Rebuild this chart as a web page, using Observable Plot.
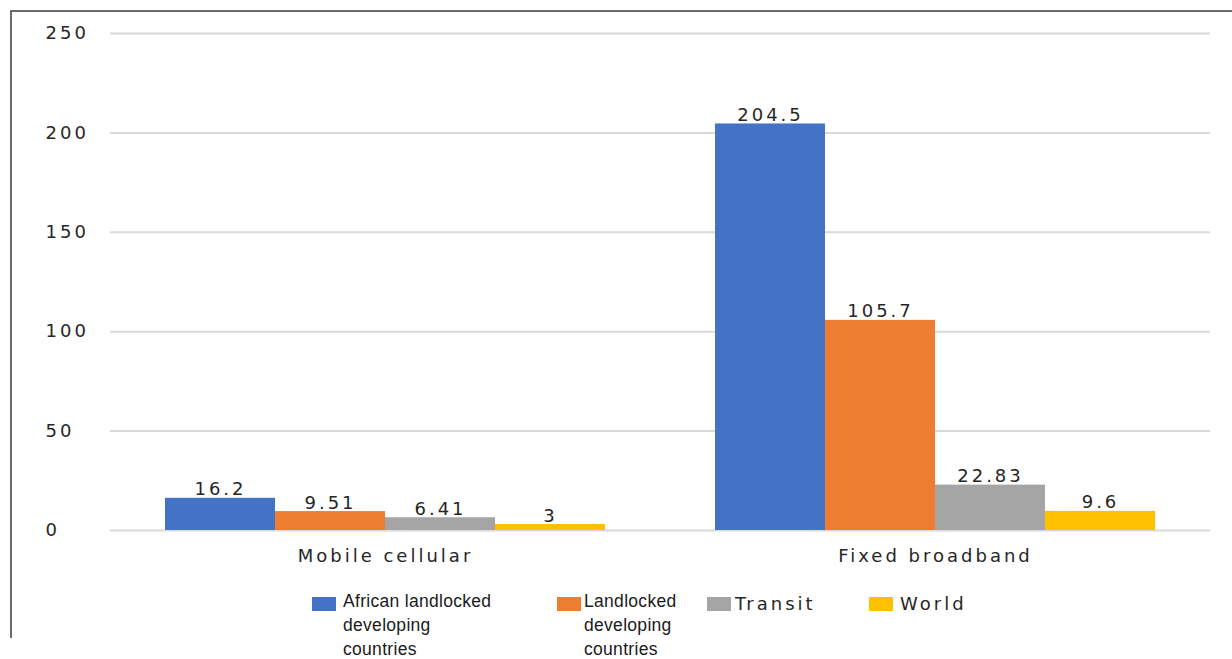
<!DOCTYPE html>
<html>
<head>
<meta charset="utf-8">
<script src="https://cdn.jsdelivr.net/npm/d3@7"></script>
<script src="https://cdn.jsdelivr.net/npm/@observablehq/plot@0.6"></script>
<style>
  html, body { margin: 0; padding: 0; background: #fff; }
  #frame { position: absolute; left: 10px; top: 10px; width: 1222px; height: 628px;
           border-left: 2px solid #6b6b6b; border-top: 2px solid #6b6b6b; box-sizing: border-box; }
  #chart { position: absolute; left: 0; top: 0; }
  #chart svg, #chart svg text { font-family: "DejaVu Sans", sans-serif !important; letter-spacing: 3px; }
  .sw { position: absolute; width: 24px; height: 14px; }
  .lt { position: absolute; font-size: 17.5px; line-height: 24px; color: #1a1a1a; }
  .calibri { font-family: "Liberation Sans", sans-serif; letter-spacing: 0.3px; }
  .dejavu { font-family: "DejaVu Sans", sans-serif; letter-spacing: 3px; font-size: 18px; color: #262626; }
</style>
</head>
<body>
<div id="frame">
  <div id="chart"></div>
  <div id="legend"></div>
</div>
<script>
const categories = ["Mobile cellular", "Fixed broadband"];
const series = ["African landlocked developing countries", "Landlocked developing countries", "Transit", "World"];
const mobileValues = [16.2, 9.51, 6.41, 3];
const fixedValues = [204.5, 105.7, 22.83, 9.6];
const mobileLabels = ["16.2", "9.51", "6.41", "3"];
const fixedLabels = ["204.5", "105.7", "22.83", "9.6"];
const yTicks = [0, 50, 100, 150, 200, 250];
const colors = ["#4472C4", "#ED7D31", "#A5A5A5", "#FFC000"];

const table = [];
series.forEach((s, i) => {
  table.push({category: categories[0], series: s, value: mobileValues[i], label: mobileLabels[i]});
  table.push({category: categories[1], series: s, value: fixedValues[i], label: fixedLabels[i]});
});

const font = "DejaVu Sans";
const ink = "#262626";
const plot = Plot.plot({
  width: 1220,
  height: 568,
  marginLeft: 98,
  marginRight: 22,
  marginTop: 21,
  marginBottom: 50,
  fx: {domain: categories, padding: 0, label: null, axis: null},
  x: {domain: series, paddingInner: 0, paddingOuter: 0.5, axis: null},
  y: {domain: [0, 250], axis: null, label: null},
  color: {domain: series, range: colors},
  style: {fontFamily: font, fontSize: "18px", color: ink, background: "transparent"},
  marks: [
    Plot.gridY(yTicks, {stroke: "#d9d9d9", strokeOpacity: 1, strokeWidth: 2}),
    Plot.barY(table, {fx: "category", x: "series", y: "value", fill: "series"}),
    Plot.text(table, {fx: "category", x: "series", y: "value", text: "label", dy: -3, lineAnchor: "bottom", fontSize: 18, fontFamily: font, fill: ink}),
    Plot.axisY(yTicks, {tickSize: 0, tickPadding: 0, textAnchor: "start", dx: -65, fontSize: 18, fontFamily: font, fill: ink, label: null}),
    Plot.axisFx({anchor: "bottom", tickSize: 0, tickPadding: 19, fontSize: 18, fontFamily: font, label: null, fill: ink})
  ]
});
document.getElementById("chart").appendChild(plot);

// Legend (page coords minus frame offset 12)
const legendItems = [
  {sw: 312, tx: 343, w: 165, cls: "calibri"},
  {sw: 557, tx: 584, w: 104, cls: "calibri"},
  {sw: 707, tx: 735, w: 130, cls: "dejavu"},
  {sw: 869, tx: 900, w: 130, cls: "dejavu"}
];
const legend = document.getElementById("legend");
series.forEach((s, i) => {
  const it = legendItems[i];
  const sw = document.createElement("div");
  sw.className = "sw";
  sw.style.left = (it.sw - 12) + "px";
  sw.style.top = (597 - 12) + "px";
  sw.style.background = colors[i];
  legend.appendChild(sw);
  const t = document.createElement("div");
  t.className = "lt " + it.cls;
  t.style.left = (it.tx - 12) + "px";
  t.style.top = (it.cls === "dejavu" ? 592 - 12 : 589 - 12) + "px";
  t.style.width = it.w + "px";
  t.textContent = s;
  legend.appendChild(t);
});
</script>
</body>
</html>
